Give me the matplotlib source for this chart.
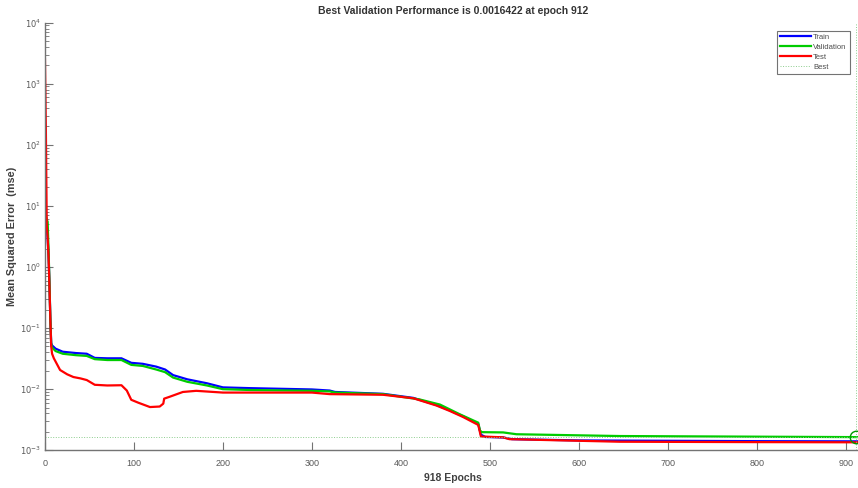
import numpy as np
import matplotlib
matplotlib.use("Agg")
import matplotlib.pyplot as plt
from matplotlib import ticker

plt.rcParams['font.family'] = ['Liberation Sans', 'DejaVu Sans']
plt.rcParams['axes.unicode_minus'] = False

# training record
train_epochs = [0, 1, 2, 3, 4, 5, 6, 7, 8, 12, 20, 35, 47, 56, 70, 86, 97, 110, 125, 135,
                144, 160, 182, 200, 230, 300, 320, 326, 380, 414, 440, 455, 470, 487, 490,
                495, 515, 525, 600, 700, 800, 918]
train_mse = [8, 7, 5, 3, 1.6, 0.6, 0.15, 0.057, 0.052, 0.046, 0.041, 0.039, 0.038, 0.0325,
             0.032, 0.032, 0.027, 0.026, 0.0234, 0.021, 0.017, 0.0145, 0.0125, 0.0107, 0.0104,
             0.0099, 0.0095, 0.0090, 0.0084, 0.0072, 0.0055, 0.0045, 0.0036, 0.0027, 0.0018,
             0.00165, 0.00162, 0.00152, 0.00145, 0.00143, 0.00141, 0.00140]

val_epochs = [0, 1, 2, 3, 4, 5, 6, 7, 8, 12, 20, 35, 47, 56, 70, 86, 97, 110, 125, 135,
              144, 160, 182, 200, 230, 300, 320, 326, 380, 421, 444, 466, 487, 489, 491,
              515, 530, 646, 800, 912, 918]
val_mse = [8, 7, 6, 5.5, 2, 0.6, 0.15, 0.055, 0.048, 0.042, 0.038, 0.036, 0.035, 0.031,
           0.030, 0.030, 0.025, 0.024, 0.021, 0.019, 0.0155, 0.0132, 0.0115, 0.0100, 0.0097,
           0.0094, 0.0092, 0.0088, 0.0083, 0.0068, 0.0056, 0.0039, 0.00283, 0.0021, 0.00198,
           0.00196, 0.00183, 0.00171, 0.00167, 0.0016422, 0.00165]

test_epochs = [0, 1, 2, 3, 4, 5, 6, 7, 8, 10, 17, 25, 32, 40, 47, 56, 70, 86, 92, 97, 105,
               118, 129, 133, 134, 140, 155, 170, 200, 300, 320, 380, 414, 440, 455, 470,
               487, 490, 515, 522, 646, 800, 918]
test_mse = [2500, 200, 5, 3, 1.5, 0.5, 0.15, 0.05, 0.038, 0.032, 0.0206, 0.0175, 0.0158,
            0.0150, 0.0141, 0.0118, 0.0115, 0.0116, 0.0095, 0.0067, 0.006, 0.0051, 0.0052,
            0.0058, 0.0070, 0.0075, 0.0090, 0.0094, 0.0088, 0.0088, 0.0083, 0.0081, 0.0071,
            0.0054, 0.0044, 0.0035, 0.0026, 0.00168, 0.00163, 0.00152, 0.00138, 0.00136,
            0.00135]

best_epoch = 912
best_perf = 0.0016422
n_epochs = 918

fig = plt.figure(figsize=(8.58, 4.88), dpi=100)
ax = fig.add_axes([0.0524, 0.0773, 0.9519, 0.8764])

ax.semilogy(train_epochs, train_mse, color=(0, 0, 1), lw=1.6, label='Train')
ax.semilogy(val_epochs, val_mse, color=(0, 0.8, 0), lw=1.6, label='Validation')
ax.semilogy(test_epochs, test_mse, color=(1, 0, 0), lw=1.6, label='Test')
ax.axhline(best_perf, color=(0.55, 0.8, 0.55), lw=0.7, ls=':', label='Best')
ax.axvline(best_epoch, color=(0.55, 0.8, 0.55), lw=0.7, ls=':')
ax.plot([best_epoch], [best_perf], 'o', mfc='none', mec=(0, 0.6, 0), ms=9, mew=1)

ax.set_xlim(0, n_epochs)
ax.set_ylim(1e-3, 1e4)
ax.set_xticks(np.arange(0, 901, 100))
decades = np.arange(-3, 5)
ax.yaxis.set_major_locator(ticker.FixedLocator(10.0 ** decades))
ax.yaxis.set_major_formatter(ticker.FixedFormatter([r'$10^{%d}$' % d for d in decades]))
minor = [k * 10.0 ** d for d in decades[:-1] for k in range(2, 10)]
ax.yaxis.set_minor_locator(ticker.FixedLocator(minor))
ax.yaxis.set_minor_formatter(ticker.NullFormatter())

grey = (0.45, 0.45, 0.45)
for side in ['top', 'right']:
    ax.spines[side].set_visible(False)
for side in ['left', 'bottom']:
    ax.spines[side].set_color(grey)
    ax.spines[side].set_linewidth(1.0)
ax.tick_params(which='major', direction='in', length=6, color=grey, labelcolor=(0.35, 0.35, 0.35),
               labelsize=6.5)
ax.tick_params(axis='x', which='major', pad=6)
ax.tick_params(axis='y', which='major', labelsize=6, pad=3)
ax.tick_params(which='minor', direction='in', length=3, color=grey)
ax.tick_params(axis='x', which='minor', bottom=False)

ax.set_title('Best Validation Performance is 0.0016422 at epoch 912', fontsize=7.5,
             fontweight='bold', color=(0.2, 0.2, 0.2), pad=6)
ax.set_xlabel('918 Epochs', fontsize=7.5, fontweight='bold', color=(0.25, 0.25, 0.25), labelpad=4)
ax.set_ylabel('Mean Squared Error  (mse)', fontsize=7.8, fontweight='bold',
              color=(0.25, 0.25, 0.25))
ax.yaxis.set_label_coords(-0.034, 0.5)

leg = ax.legend(loc='upper right', bbox_to_anchor=(0.99, 0.99), fontsize=5.5, handlelength=4,
                handletextpad=0.3, borderpad=0.4, labelspacing=0.35, fancybox=False,
                framealpha=1)
leg.get_frame().set_edgecolor(grey)
leg.get_frame().set_linewidth(0.8)
for t in leg.get_texts():
    t.set_color((0.3, 0.3, 0.3))

fig.savefig('out.png', dpi=100)
